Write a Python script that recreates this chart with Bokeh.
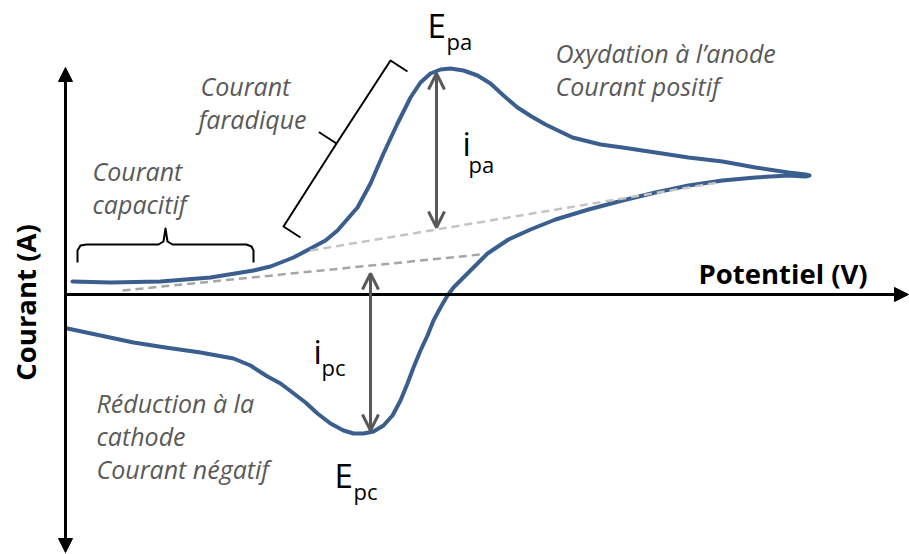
import math
from bokeh.plotting import figure
from bokeh.models import Range1d, Arrow, NormalHead, OpenHead
from bokeh.core.properties import value
from bokeh.embed import file_html
from bokeh.resources import INLINE

# ---- data (potential and current in arbitrary units) ----
# forward (anodic) scan
fwd_E = [0.07, 0.45, 0.95, 1.45, 1.88, 2.05, 2.28, 2.45, 2.60, 2.72, 2.92, 3.05, 3.18, 3.32,
         3.45, 3.55, 3.65, 3.75, 3.85, 3.98, 4.12, 4.25, 4.38, 4.52, 4.66, 4.80,
         5.07, 5.35, 5.57, 5.90, 6.23, 6.57, 6.90, 7.23, 7.40, 7.44]
fwd_i = [0.13, 0.12, 0.13, 0.17, 0.24, 0.28, 0.37, 0.46, 0.54, 0.64, 0.87, 1.11, 1.41, 1.71,
         1.97, 2.12, 2.21, 2.25, 2.26, 2.24, 2.19, 2.11, 1.99, 1.87, 1.78, 1.70,
         1.57, 1.50, 1.47, 1.42, 1.37, 1.33, 1.27, 1.22, 1.20, 1.19]
# reverse (cathodic) scan
rev_E = [7.40, 7.23, 6.90, 6.57, 6.23, 5.90, 5.57, 5.23, 4.90, 4.65, 4.43, 4.22,
         4.08, 3.98, 3.88, 3.82, 3.75, 3.68, 3.62, 3.55, 3.48, 3.42, 3.35, 3.27,
         3.18, 3.08, 2.98, 2.88, 2.78, 2.65, 2.52, 2.40, 2.27, 2.15, 2.02, 1.85,
         1.68, 1.35, 1.00, 0.68, 0.35, 0.02]
rev_i = [1.18, 1.19, 1.17, 1.14, 1.09, 1.02, 0.94, 0.85, 0.75, 0.65, 0.55, 0.41,
         0.27, 0.17, 0.07, -0.01, -0.13, -0.26, -0.41, -0.56, -0.73, -0.89, -1.06, -1.21,
         -1.31, -1.37, -1.39, -1.39, -1.36, -1.29, -1.19, -1.08, -0.98, -0.89, -0.82, -0.71,
         -0.64, -0.58, -0.53, -0.48, -0.41, -0.34]

# baselines (dashed)
base_a_E = [2.45, 6.53]
base_a_i = [0.44, 1.12]
base_c_E = [0.57, 4.15]
base_c_i = [0.04, 0.40]

# peak current arrows
ipa_E = 3.71
ipa_i = [0.67, 2.21]
ipc_E = 3.05
ipc_i = [0.21, -1.36]

# braces
brace_cap_E = [0.12, 0.12, 0.15, 0.21, 0.93, 0.98, 1.00, 1.02, 1.07, 1.81, 1.86, 1.88, 1.88]
brace_cap_i = [0.32, 0.44, 0.49, 0.50, 0.50, 0.53, 0.66, 0.53, 0.50, 0.50, 0.48, 0.44, 0.32]
brace_far_E = [2.35, 2.18, 2.71, 2.54, 2.71, 3.25, 3.42]
brace_far_i = [0.57, 0.68, 1.51, 1.62, 1.51, 2.34, 2.23]

# annotation texts
italic_texts = ["Courant", "faradique", "Courant", "capacitif",
                "Oxydation à l’anode", "Courant positif",
                "Réduction à la", "cathode", "Courant négatif"]
italic_x = [1.35, 1.33, 0.27, 0.27, 4.90, 4.90, 0.31, 0.31, 0.31]
italic_y = [2.09, 1.76, 1.24, 0.91, 2.42, 2.09, -1.08, -1.41, -1.74]

main_labels = ["E", "i", "i", "E"]
main_x = [3.62, 3.97, 2.48, 2.69]
main_y = [2.69, 1.51, -0.57, -1.81]
sub_labels = ["pa", "pa", "pc", "pc"]
sub_x = [3.81, 4.03, 2.56, 2.88]
sub_y = [2.54, 1.31, -0.72, -1.96]

x_label = "Potentiel (V)"
y_label = "Courant (A)"

# ---- figure ----
p = figure(width=909, height=554, x_range=Range1d(-0.65, 8.44), y_range=Range1d(-2.60, 2.94),
           output_backend="svg", toolbar_location=None,
           x_axis_location=None, y_axis_location=None, min_border=0)
p.grid.grid_line_color = None
p.outline_line_color = None
p.background_fill_color = "white"

FONT = value("Open Sans")

# axes as arrows
p.add_layout(Arrow(end=NormalHead(size=14, fill_color="black", line_color="black"),
                   x_start=0.0, y_start=0.0, x_end=8.43, y_end=0.0,
                   line_width=3, line_color="black"))
p.add_layout(Arrow(start=NormalHead(size=14, fill_color="black", line_color="black"),
                   end=NormalHead(size=14, fill_color="black", line_color="black"),
                   x_start=0.0, y_start=-2.58, x_end=0.0, y_end=2.27,
                   line_width=3, line_color="black"))

# voltammogram
p.line(fwd_E + rev_E, fwd_i + rev_i, line_color="#3A5F8F", line_width=4,
       line_join="round", line_cap="round")

# baselines (drawn over the curve)
p.line(base_a_E, base_a_i, line_color="#C4C4C4", line_width=2.5, line_dash="8 5")
p.line(base_c_E, base_c_i, line_color="#A6A6A6", line_width=2.5, line_dash="8 5")

# peak arrows
for xe, ys in [(ipa_E, ipa_i), (ipc_E, ipc_i)]:
    p.add_layout(Arrow(start=OpenHead(size=16, line_color="#595959", line_width=3),
                       end=OpenHead(size=16, line_color="#595959", line_width=3),
                       x_start=xe, y_start=ys[0], x_end=xe, y_end=ys[1],
                       line_color="#595959", line_width=3))

# braces
p.line(brace_cap_E, brace_cap_i, line_color="black", line_width=2, line_join="round")
p.line(brace_far_E, brace_far_i, line_color="black", line_width=2, line_join="round")

# italic annotations
p.text(x=italic_x, y=italic_y, text=italic_texts, text_font=FONT, text_font_size="25px",
       text_font_style="italic", text_color="#595959", text_baseline="alphabetic",
       text_align="left")

# peak labels
p.text(x=main_x, y=main_y, text=main_labels, text_font=FONT, text_font_size="33px",
       text_color="black", text_baseline="alphabetic", text_align="left")
p.text(x=sub_x, y=sub_y, text=sub_labels, text_font=FONT, text_font_size="22px",
       text_color="black", text_baseline="alphabetic", text_align="left")

# axis titles
p.text(x=[6.33], y=[0.215], text=[x_label], text_font=FONT, text_font_size="27.5px",
       text_font_style="bold", text_color="black", text_baseline="alphabetic",
       text_align="left")
p.text(x=[-0.40], y=[-0.08], text=[y_label], text_font=FONT, text_font_size="27.5px",
       text_font_style="bold", text_color="black", text_baseline="alphabetic",
       text_align="center", angle=math.pi / 2)

open("out.html", "w").write(file_html(p, INLINE))
